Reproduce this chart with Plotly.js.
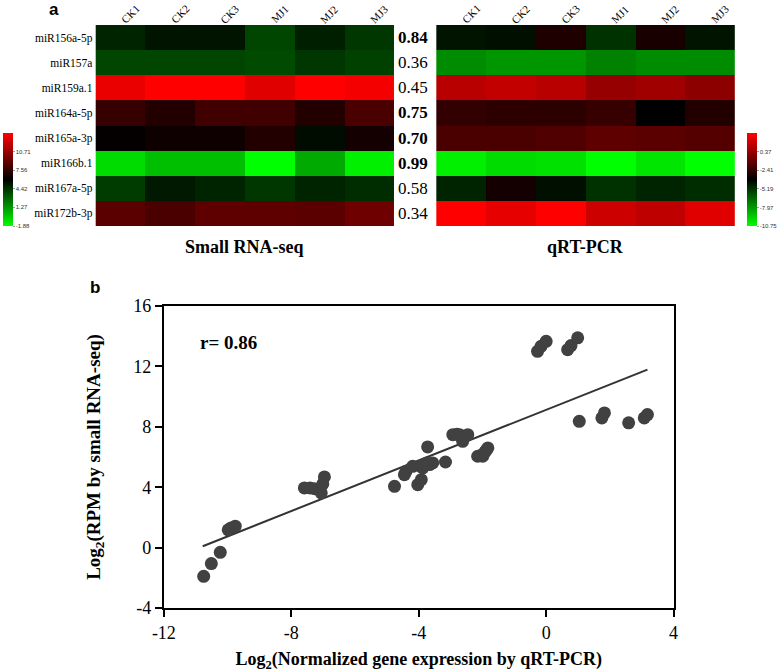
<!DOCTYPE html>
<html>
<head>
<meta charset="utf-8">
<script src="https://cdn.plot.ly/plotly-3.0.1.min.js"></script>
<style>html,body{margin:0;padding:0;background:#fff;}#chart{width:778px;height:672px;}</style>
</head>
<body>
<div id="chart"></div>
<script>
// ---- Data ----
var samples = ['CK1', 'CK2', 'CK3', 'MJ1', 'MJ2', 'MJ3'];
var mirnas = ['miR156a-5p', 'miR157a', 'miR159a.1', 'miR164a-5p', 'miR165a-3p', 'miR166b.1', 'miR167a-5p', 'miR172b-3p'];

// Small RNA-seq heatmap values (log2 RPM), rows = mirnas, cols = samples
var rnaseqZ = [
  [4.91, 5.37, 5.37, 3.83, 5.06, 4.29],
  [3.83, 3.83, 3.83, 3.67, 4.29, 3.98],
  [13.23, 13.85, 13.85, 12.92, 13.85, 13.54],
  [7.68, 7.06, 7.99, 7.99, 7.06, 8.30],
  [6.14, 6.45, 6.45, 7.06, 5.61, 6.60],
  [-0.80, 0.13, 0.13, -1.88, 0.74, -1.42],
  [4.13, 5.21, 4.91, 4.29, 4.91, 4.60],
  [8.76, 8.30, 8.92, 8.92, 8.76, 9.38]
];
// qRT-PCR heatmap values (log2 normalized expression)
var qpcrZ = [
  [-4.35, -4.21, -2.98, -5.16, -3.12, -4.35],
  [-7.62, -7.89, -7.89, -7.34, -7.62, -7.62],
  [1.24, 1.51, 1.24, 0.29, 0.56, 0.02],
  [-2.44, -2.57, -2.57, -2.30, -3.80, -2.85],
  [-1.76, -1.76, -1.62, -1.21, -1.35, -1.48],
  [-10.34, -9.80, -9.93, -10.75, -10.07, -10.75],
  [-4.75, -3.25, -4.21, -5.16, -4.75, -5.03],
  [3.15, 2.47, 3.15, 1.79, 1.38, 2.33]
];
var rnaseqTicks = [-1.88, 1.27, 4.42, 7.56, 10.71];
var rnaseqRange = [-1.88, 13.85];
var qpcrTicks = [-10.75, -7.97, -5.19, -2.41, 0.37];
var qpcrRange = [-10.75, 3.15];

// Correlation per miRNA
var corrVals = ['0.84', '0.36', '0.45', '0.75', '0.70', '0.99', '0.58', '0.34'];
var corrBold = [true, false, false, true, true, true, false, false];

// Scatter: qRT-PCR (x) vs small RNA-seq (y)
var scatterX = [
  -10.75, -10.51, -10.23, -9.98, -9.89, -9.76,
  -7.59, -7.41, -7.27, -7.06, -7.01, -6.96,
  -0.27, -0.16, 0.00, 0.675, 0.78, 0.99,
  1.04, 1.75, 1.83, 2.59, 3.08, 3.18,
  -2.15, -2.05, -1.99, -1.93, -1.88, -1.83,
  -2.93, -2.80, -2.72, -2.62, -2.46, -3.72,
  -4.76, -4.45, -4.40, -4.19, -4.03, -3.92, -3.87, -3.66, -3.56, -3.16, -3.95, -3.75
];
var scatterY = [
  -1.90, -1.06, -0.31, 1.18, 1.30, 1.42,
  3.95, 3.95, 3.90, 3.62, 4.22, 4.68,
  13.00, 13.33, 13.66, 13.11, 13.38, 13.89,
  8.36, 8.59, 8.92, 8.26, 8.59, 8.81,
  6.05, 6.10, 6.05, 6.30, 6.45, 6.60,
  7.48, 7.50, 7.48, 7.04, 7.48, 6.67,
  4.06, 4.83, 5.05, 5.38, 4.17, 4.50, 5.28, 5.50, 5.61, 5.67, 5.40, 5.60
];
var xTicks = [-12, -8, -4, 0, 4];
var yTicks = [-4, 0, 4, 8, 12, 16];
// Regression line end points
var fitX = [-10.78, 3.18];
var fitY = [0.09, 11.79];
var rText = 'r= 0.86';

// ---- Layout helpers ----
var W = 778, H = 672;
function px(x) { return x / W; }
function py(y) { return (H - y) / H; }
var serif = 'Liberation Serif';
var sans = 'Liberation Sans';
var cs = [[0, 'rgb(0,255,0)'], [0.5, 'rgb(0,0,0)'], [1, 'rgb(255,0,0)']];
function hy(v) { return String(v); } // plain hyphen-minus labels

function cbar(xpos, ticks) {
  return {
    x: xpos, xanchor: 'left', xpad: 0, ypad: 0,
    y: py(226), yanchor: 'bottom', len: (226 - 133) / H, lenmode: 'fraction',
    thickness: 10, outlinewidth: 0,
    tickvals: ticks, ticktext: ticks.map(function (v) { return v.toFixed(2); }),
    ticks: 'outside', ticklen: 2, tickwidth: 0.5, tickcolor: '#444',
    tickfont: { family: sans, size: 6, color: '#333' }
  };
}

var traces = [
  {
    type: 'heatmap', x: samples, y: mirnas, z: rnaseqZ,
    colorscale: cs, zmin: rnaseqRange[0], zmax: rnaseqRange[1],
    xaxis: 'x', yaxis: 'y', colorbar: cbar(px(3), rnaseqTicks), hoverinfo: 'skip'
  },
  {
    type: 'heatmap', x: samples, y: mirnas, z: qpcrZ,
    colorscale: cs, zmin: qpcrRange[0], zmax: qpcrRange[1],
    xaxis: 'x2', yaxis: 'y2', colorbar: cbar(px(749), qpcrTicks), hoverinfo: 'skip'
  },
  {
    type: 'scatter', mode: 'lines', x: fitX, y: fitY,
    line: { color: '#333333', width: 2 }, xaxis: 'x3', yaxis: 'y3', showlegend: false
  },
  {
    type: 'scatter', mode: 'markers', x: scatterX, y: scatterY,
    marker: { color: '#414141', size: 13 }, xaxis: 'x3', yaxis: 'y3', showlegend: false
  }
];

var annotations = [];
mirnas.forEach(function (m, i) {
  annotations.push({
    xref: 'paper', yref: 'y', x: px(414), y: m, xanchor: 'center', yanchor: 'middle',
    text: corrBold[i] ? '<b>' + corrVals[i] + '</b>' : corrVals[i], showarrow: false,
    font: { family: serif, size: 17, color: '#000' }
  });
});
// rotated column labels above both heatmaps
var colW = (395 - 95.7) / 6;
samples.forEach(function (s, j) {
  [95.7, 437.3].forEach(function (x0) {
    annotations.push({
      xref: 'paper', yref: 'paper', x: px(x0 + colW * (j + 0.5) + 10), y: py(14),
      xanchor: 'center', yanchor: 'middle', text: s, textangle: -45, showarrow: false,
      font: { family: serif, size: 11, color: '#000' }
    });
  });
});
annotations.push(
  { xref: 'paper', yref: 'paper', x: px(245), y: py(247), text: '<b>Small RNA-seq</b>', showarrow: false,
    xanchor: 'center', yanchor: 'middle', font: { family: serif, size: 18, color: '#000' } },
  { xref: 'paper', yref: 'paper', x: px(587), y: py(247), text: '<b>qRT-PCR</b>', showarrow: false,
    xanchor: 'center', yanchor: 'middle', font: { family: serif, size: 18, color: '#000' } },
  { xref: 'paper', yref: 'paper', x: px(54), y: py(10), text: '<b>a</b>', showarrow: false,
    xanchor: 'center', yanchor: 'middle', font: { family: sans, size: 17, color: '#000' } },
  { xref: 'paper', yref: 'paper', x: px(95), y: py(287), text: '<b>b</b>', showarrow: false,
    xanchor: 'center', yanchor: 'middle', font: { family: sans, size: 17, color: '#000' } },
  { xref: 'x3', yref: 'y3', x: -10.94, y: 13.58, text: '<b>' + rText + '</b>', showarrow: false,
    xanchor: 'left', yanchor: 'middle', font: { family: serif, size: 19, color: '#000' } }
);

var hmX = {
  side: 'top', showticklabels: false, showgrid: false, zeroline: false, ticks: '', fixedrange: true
};
var layout = {
  width: W, height: H, margin: { l: 0, r: 0, t: 0, b: 0 },
  paper_bgcolor: '#fff', plot_bgcolor: '#fff', showlegend: false,
  xaxis: Object.assign({}, hmX, { domain: [px(95.7), px(395)], anchor: 'y' }),
  yaxis: { domain: [py(226), py(25)], autorange: 'reversed', anchor: 'x', showgrid: false, zeroline: false,
    ticks: '', tickfont: { family: serif, size: 11.5, color: '#000' }, ticklabelstandoff: 2 },
  xaxis2: Object.assign({}, hmX, { domain: [px(437.3), px(736.7)], anchor: 'y2' }),
  yaxis2: { domain: [py(226), py(25)], autorange: 'reversed', anchor: 'x2', showgrid: false, zeroline: false,
    showticklabels: false, ticks: '' },
  xaxis3: {
    domain: [px(164.3), px(675.3)], anchor: 'y3', range: [-12, 4], tickvals: xTicks, ticktext: xTicks.map(hy),
    showline: true, linecolor: '#000', linewidth: 2, mirror: true, ticks: 'outside', ticklen: 7, tickwidth: 2,
    tickcolor: '#000', showgrid: false, zeroline: false,
    tickfont: { family: serif, size: 18, color: '#000' },
    title: { text: '<b>Log<sub>2</sub>(Normalized gene expression by qRT-PCR)</b>', standoff: 13,
      font: { family: serif, size: 18, color: '#000' } }
  },
  yaxis3: {
    domain: [py(608), py(306)], anchor: 'x3', range: [-4, 16], tickvals: yTicks, ticktext: yTicks.map(hy),
    showline: true, linecolor: '#000', linewidth: 2, mirror: true, ticks: 'outside', ticklen: 7, tickwidth: 2,
    tickcolor: '#000', showgrid: false, zeroline: false,
    tickfont: { family: serif, size: 18, color: '#000' },
    title: { text: '<b>Log<sub>2</sub>(RPM by small RNA-seq)</b>', standoff: 28,
      font: { family: serif, size: 19, color: '#000' } }
  },
  annotations: annotations
};

Plotly.newPlot('chart', traces, layout, { staticPlot: true, displayModeBar: false });
</script>
</body>
</html>
